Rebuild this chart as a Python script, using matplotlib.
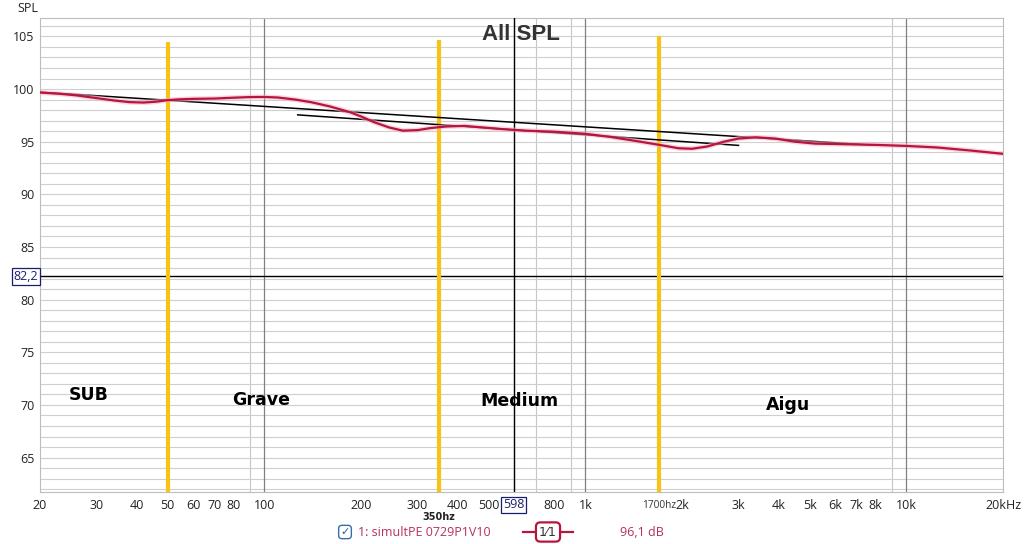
import matplotlib
matplotlib.use("Agg")
import matplotlib.pyplot as plt
from matplotlib.ticker import FixedLocator, NullFormatter
from matplotlib.lines import Line2D

# ---------------- data ----------------
freq_hz = [20, 23, 26, 30, 34, 38, 42, 46, 50, 55, 60, 70, 80, 90, 100, 110, 125,
           140, 160, 185, 200, 220, 245, 270, 300, 330, 370, 420, 480, 550, 650,
           800, 1000, 1200, 1450, 1700, 1950, 2150, 2400, 2700, 3000, 3400, 3900,
           4500, 5200, 6500, 8000, 10000, 12500, 16000, 20000]
spl_db = [99.67, 99.55, 99.40, 99.14, 98.92, 98.76, 98.72, 98.80, 98.95, 99.03,
          99.07, 99.10, 99.18, 99.24, 99.25, 99.20, 99.00, 98.75, 98.35, 97.80,
          97.40, 96.85, 96.35, 96.05, 96.10, 96.30, 96.45, 96.50, 96.35, 96.20,
          96.05, 95.95, 95.75, 95.45, 95.05, 94.70, 94.38, 94.33, 94.55, 95.00,
          95.30, 95.42, 95.30, 95.00, 94.82, 94.76, 94.70, 94.60, 94.45, 94.15, 93.85]

trend_long_hz = [20, 8000]
trend_long_db = [99.71, 94.66]
trend_short_hz = [127, 3000]
trend_short_db = [97.55, 94.65]

crossover_hz = [50, 350, 1700]
crossover_top_db = [104.43, 104.7, 105.0]
crossover_labels = ["350hz", "1700hz"]

band_labels = ["SUB", "Grave", "Medium", "Aigu"]
band_hz = [28.4, 97.8, 624, 4277]
band_db = [70.9, 70.5, 70.4, 70.0]

cursor_hz = 598
cursor_db = 82.2
cursor_hz_text = "598"
cursor_db_text = "82,2"

x_tick_hz = [20, 30, 40, 50, 60, 70, 80, 100, 200, 300, 400, 500, 800, 1000,
             2000, 3000, 4000, 5000, 6000, 7000, 8000, 10000, 20000]
x_tick_labels = ["20", "30", "40", "50", "60", "70", "80", "100", "200", "300",
                 "400", "500", "800", "1k", "2k", "3k", "4k", "5k", "6k", "7k",
                 "8k", "10k", "20kHz"]
y_ticks = [65, 70, 75, 80, 85, 90, 95, 100, 105]

title_text = "All SPL"
y_label = "SPL"
legend_name = "1: simultPE 0729P1V10"
legend_value = "96,1 dB"
smoothing_text = "1\u20441"

# ---------------- style ----------------
W, H = 1024, 544
plt.rcParams['font.family'] = ['Open Sans', 'DejaVu Sans']
RED = '#b8143c'
TXT_RED = '#b8305a'
YELLOW = '#f7c415'
NAVY = '#1b1f6b'
AX_L, AX_R, AX_T, AX_B = 40, 1003, 18, 492
AH = AX_B - AX_T

fig = plt.figure(figsize=(W / 100, H / 100), dpi=100)
ax = fig.add_axes([AX_L / W, 1 - AX_B / H, (AX_R - AX_L) / W, AH / H])
ax.set_xscale('log')
ax.set_xlim(20, 20000)
ax.set_ylim(61.73, 106.75)

# grid
grid_hz = [m * 10 ** e for e in (1, 2, 3, 4) for m in range(1, 10)
           if 20 <= m * 10 ** e <= 20000]
ax.xaxis.set_minor_locator(FixedLocator(grid_hz))
ax.xaxis.set_minor_formatter(NullFormatter())
ax.set_xticks(x_tick_hz)
ax.set_xticklabels(x_tick_labels)
ax.set_yticks(y_ticks)
ax.yaxis.set_minor_locator(FixedLocator(list(range(62, 107))))
ax.grid(which='minor', axis='x', color='#c6c6c6', lw=0.8)
ax.grid(which='both', axis='y', color='#cfcfcf', lw=0.8)
ax.grid(which='major', axis='x', visible=False)
for d in (100, 1000, 10000):
    ax.axvline(d, color='#808080', lw=0.9, zorder=1)
ax.tick_params(which='both', length=0, labelsize=9, colors='#222222')
ax.tick_params(axis='x', pad=5)
ax.tick_params(axis='y', pad=4)
ax.set_axisbelow(True)
for s in ax.spines.values():
    s.set_color('#bdbdbd')
    s.set_linewidth(0.8)

xt = ax.get_xaxis_transform()
tick_y = -(505 - AX_B) / AH

ax.text(1700, tick_y, crossover_labels[1], transform=xt,
        ha='center', va='center', fontsize=7.3, color='#333333')
ax.text(350, -(517 - AX_B) / AH, crossover_labels[0], transform=xt,
        ha='center', va='center', fontsize=7, fontweight='bold', color='#222222',
        family='DejaVu Sans')

# cursors
ax.axvline(cursor_hz, color='black', lw=1.0, zorder=3)
ax.axhline(cursor_db, color='black', lw=1.0, zorder=3)

# crossover markers
ax.vlines(crossover_hz, 61.73, crossover_top_db, colors=YELLOW, lw=3, zorder=4)

# trend lines
ax.plot(trend_long_hz, trend_long_db, color='black', lw=1.1, zorder=5)
ax.plot(trend_short_hz, trend_short_db, color='black', lw=1.1, zorder=5)

# response curve with glow
ax.plot(freq_hz, spl_db, color='#f4b3c6', lw=3.6, alpha=0.55, zorder=6,
        solid_capstyle='butt')
ax.plot(freq_hz, spl_db, color=RED, lw=1.6, zorder=7, solid_joinstyle='round')

# band labels
for lab, fx, fy in zip(band_labels, band_hz, band_db):
    ax.text(fx, fy, lab, ha='center', va='center', fontsize=12.5,
            fontweight='heavy', family='DejaVu Sans', color='black', zorder=8)

# title
ax.text((521 - AX_L) / (AX_R - AX_L), 1 - (35 - AX_T) / AH, title_text,
        transform=ax.transAxes, ha='center', va='center', fontsize=16,
        fontweight='bold', family='Liberation Sans', color='#333333', zorder=8)

# y label
fig.text(28 / W, 1 - 9 / H, y_label, ha='center', va='center', fontsize=9,
         color='#222222')

# cursor value boxes
box = dict(boxstyle='square,pad=0.15', fc='white', ec=NAVY, lw=0.9)
ax.text(-0.002, cursor_db, cursor_db_text, transform=ax.get_yaxis_transform(),
        ha='right', va='center', fontsize=9, color=NAVY, bbox=box, zorder=9)
ax.text(cursor_hz, tick_y, cursor_hz_text, transform=xt,
        ha='center', va='center', fontsize=9, color=NAVY, bbox=box, zorder=9,
        clip_on=False)

# bottom legend row
ly = 1 - 532 / H
fig.text(345 / W, ly, "\u2713", ha='center', va='center', fontsize=8,
         color='#2a5d9f', family='DejaVu Sans',
         bbox=dict(boxstyle='round,pad=0.15,rounding_size=0.3', fc='white',
                   ec='#3a6ea5', lw=1.0))
fig.text(358 / W, ly, legend_name, ha='left', va='center', fontsize=9,
         color=TXT_RED)
fig.add_artist(Line2D([523 / W, 573 / W], [ly, ly], color=RED, lw=1.6,
                      transform=fig.transFigure))
fig.text(548 / W, ly, smoothing_text, ha='center', va='center', fontsize=9,
         color='#333333', family='DejaVu Sans',
         bbox=dict(boxstyle='round,pad=0.25,rounding_size=0.35', fc='white',
                   ec=RED, lw=1.6))
fig.text(620 / W, ly, legend_value, ha='left', va='center', fontsize=9,
         color=TXT_RED)

fig.savefig('out.png', dpi=100)
